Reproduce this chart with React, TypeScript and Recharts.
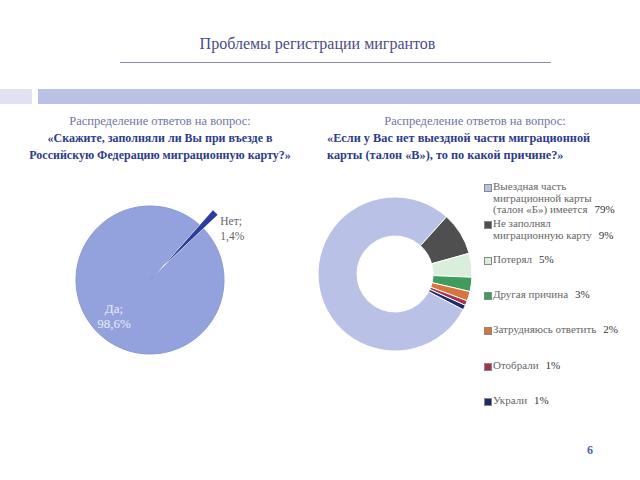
import { PieChart, Pie, Cell, Legend } from 'recharts'

const TITLE = 'Проблемы регистрации мигрантов'
const QUESTION_HEAD = 'Распределение ответов на вопрос:'
const LEFT_QUESTION = ['«Скажите, заполняли ли Вы при въезде в', 'Российскую Федерацию миграционную карту?»']
const RIGHT_QUESTION = ['«Если у Вас нет выездной части миграционной', 'карты (талон «В»), то по какой причине?»']

const fillNames = ['Да', 'Нет']
const fillValues = [98.6, 1.4]
const fillLabels = ['98,6%', '1,4%']
const fillColors = ['#93a2dc', '#2c3d9c']

const reasonNames = [
  ['Выездная часть', 'миграционной карты', '(талон «Б») имеется'],
  ['Не заполнял', 'миграционную карту'],
  ['Потерял'],
  ['Другая причина'],
  ['Затрудняюсь ответить'],
  ['Отобрали'],
  ['Украли'],
]
const reasonValues = [79, 9, 5, 3, 2, 1, 1]
const reasonColors = ['#b9c1e6', '#4f4f4f', '#d9eedb', '#3f9c5c', '#d9743c', '#a23452', '#1d2b6b']

const fillData = fillNames.map((name, i) => ({ name, value: fillValues[i], label: fillLabels[i] }))
const reasonData = reasonNames.map((lines, i) => ({ name: lines.join(' '), value: reasonValues[i] }))

const SERIF = "'Liberation Serif', 'DejaVu Serif', Tinos, 'Times New Roman', serif"
const RAD = Math.PI / 180
const EXPLODE = 20
const NO_MID = 46
const NO_MARGIN = { top: 0, right: 0, bottom: 0, left: 0 }

function yesLabel(p: any) {
  if (p.index !== 0) return null
  const r = p.outerRadius * 0.7
  const x = p.cx + r * Math.cos(-p.midAngle * RAD)
  const y = p.cy + r * Math.sin(-p.midAngle * RAD)
  return (
    <text x={x} y={y} textAnchor="middle" fill="#e9edf9" fontSize={13} fontFamily={SERIF}>
      <tspan x={x} dy={-4}>{fillData[0].name};</tspan>
      <tspan x={x} dy={15}>{fillData[0].label}</tspan>
    </text>
  )
}

function noLabel(p: any) {
  if (p.index !== 1) return null
  const x = p.cx + p.outerRadius * Math.cos(-p.midAngle * RAD) + 5
  const y = p.cy + p.outerRadius * Math.sin(-p.midAngle * RAD) + 13
  return (
    <text x={x} y={y} textAnchor="start" fill="#666" fontSize={11.5} fontFamily={SERIF}>
      <tspan x={x} dy={0}>{fillData[1].name};</tspan>
      <tspan x={x} dy={15}>{fillData[1].label}</tspan>
    </text>
  )
}

function ReasonLegend() {
  return (
    <div style={{ position: 'relative', width: 160, height: 240, fontFamily: SERIF, fontSize: 11, color: '#666' }}>
      {reasonNames.map((lines, i) => (
        <div key={i} style={{ position: 'absolute', left: 0, top: i === 0 ? -2 : i * 35.3, lineHeight: '11.7px', whiteSpace: 'nowrap' }}>
          <span style={{ position: 'absolute', left: 0, top: 3, width: 6, height: 6, background: reasonColors[i], border: '0.5px solid #888' }} />
          {lines.map((ln, j) => (
            <div key={j} style={{ paddingLeft: 9 }}>
              {ln}
              {j === lines.length - 1 && (
                <span style={{ marginLeft: 7, color: '#333' }}>{reasonValues[i]}%</span>
              )}
            </div>
          ))}
        </div>
      ))}
    </div>
  )
}

const abs = (left: number, top: number): React.CSSProperties => ({ position: 'absolute', left, top })

export default function App() {
  const dx = EXPLODE * Math.cos(NO_MID * RAD)
  const dy = -EXPLODE * Math.sin(NO_MID * RAD)
  return (
    <div style={{ position: 'absolute', left: 0, top: 0, width: 640, height: 480, background: '#fff', fontFamily: SERIF, overflow: 'hidden' }}>
      <div style={{ ...abs(0, 35), width: 635, textAlign: 'center', fontSize: 16, color: '#4a4e86' }}>{TITLE}</div>
      <div style={{ ...abs(120, 62), width: 431, height: 1, background: '#8a8aa6' }} />
      <div style={{ ...abs(0, 89), width: 32, height: 15, background: '#dfe2f1' }} />
      <div style={{ ...abs(38, 89), width: 602, height: 15, background: '#b9c1e5' }} />

      <div style={{ ...abs(0, 113), width: 320, textAlign: 'center', lineHeight: '17px' }}>
        <div style={{ color: '#6f76a0', fontSize: 12.5 }}>{QUESTION_HEAD}</div>
        {LEFT_QUESTION.map((t) => (
          <div key={t} style={{ color: '#2e3b8c', fontWeight: 'bold', whiteSpace: 'nowrap', fontSize: 12 }}>{t}</div>
        ))}
      </div>
      <div style={{ ...abs(327, 113), lineHeight: '17px' }}>
        <div style={{ color: '#6f76a0', width: 296, textAlign: 'center', fontSize: 12.5 }}>{QUESTION_HEAD}</div>
        {RIGHT_QUESTION.map((t) => (
          <div key={t} style={{ color: '#2e3b8c', fontWeight: 'bold', whiteSpace: 'nowrap', fontSize: 12.3 }}>{t}</div>
        ))}
      </div>

      <div style={abs(40, 170)}>
        <PieChart width={240} height={220} margin={NO_MARGIN}>
          <Pie
            data={fillData}
            dataKey="value"
            cx={110}
            cy={110}
            outerRadius={74}
            startAngle={NO_MID + 2.5}
            endAngle={NO_MID + 362.5}
            label={yesLabel}
            labelLine={false}
            isAnimationActive={false}
          >
            {fillData.map((_, i) => (
              <Cell key={i} fill={i === 0 ? fillColors[0] : 'transparent'} stroke={i === 0 ? '#8a99d2' : 'none'} />
            ))}
          </Pie>
          <Pie
            data={fillData}
            dataKey="value"
            cx={110 + dx}
            cy={110 + dy}
            outerRadius={74}
            startAngle={NO_MID + 2.5}
            endAngle={NO_MID + 362.5}
            label={noLabel}
            labelLine={false}
            isAnimationActive={false}
          >
            {fillData.map((_, i) => (
              <Cell key={i} fill={i === 1 ? fillColors[1] : 'transparent'} stroke="none" />
            ))}
          </Pie>
        </PieChart>
      </div>

      <div style={abs(310, 170)}>
        <PieChart width={330} height={260} margin={NO_MARGIN}>
          <Pie
            data={reasonData}
            dataKey="value"
            cx={85}
            cy={104}
            innerRadius={38}
            outerRadius={77}
            startAngle={48 + 284.4}
            endAngle={48 + 284.4 - 360}
            stroke="#fff"
            strokeWidth={1}
            isAnimationActive={false}
          >
            {reasonData.map((_, i) => (
              <Cell key={i} fill={reasonColors[i]} />
            ))}
          </Pie>
          <Legend content={() => <ReasonLegend />} wrapperStyle={{ left: 174, top: 13, width: 160 }} />
        </PieChart>
      </div>

      <div style={{ ...abs(587, 443), fontSize: 12, fontWeight: 'bold', color: '#5262a2' }}>6</div>
    </div>
  )
}
